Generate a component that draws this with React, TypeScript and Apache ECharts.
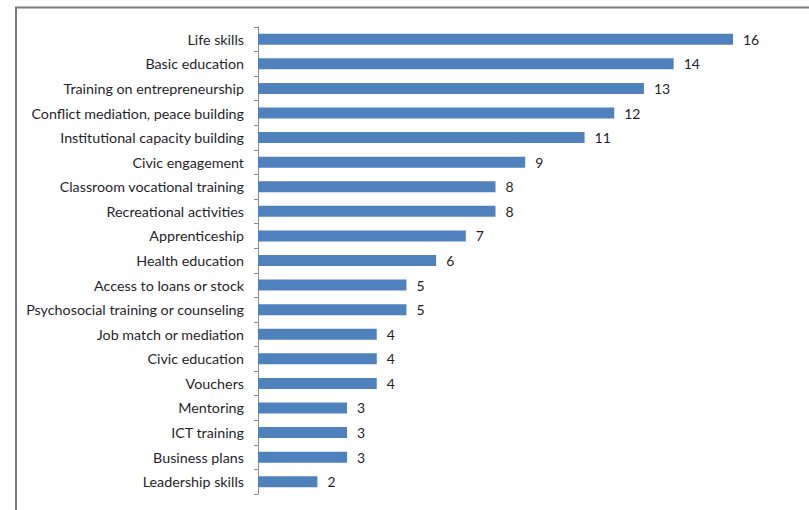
import React, { useEffect, useRef } from "react";
import * as echarts from "echarts";

const categories = [
  "Life skills",
  "Basic education",
  "Training on entrepreneurship",
  "Conflict mediation, peace building",
  "Institutional capacity building",
  "Civic engagement",
  "Classroom vocational training",
  "Recreational activities",
  "Apprenticeship",
  "Health education",
  "Access to loans or stock",
  "Psychosocial training or counseling",
  "Job match or mediation",
  "Civic education",
  "Vouchers",
  "Mentoring",
  "ICT training",
  "Business plans",
  "Leadership skills",
];

const values = [16, 14, 13, 12, 11, 9, 8, 8, 7, 6, 5, 5, 4, 4, 4, 3, 3, 3, 2];

const FONT = "Lato";

export default function App() {
  const ref = useRef<HTMLDivElement>(null);
  useEffect(() => {
    if (!ref.current) return;
    const chart = echarts.init(ref.current, undefined, { renderer: "svg" });
    chart.setOption({
      animation: false,
      backgroundColor: "#ffffff",
      graphic: [
        {
          type: "rect",
          shape: { x: 16, y: 7.5, width: 900, height: 600 },
          style: { fill: "none", stroke: "#7a7a7a", lineWidth: 2 },
          silent: true,
        },
      ],
      grid: { left: 258, top: 27, width: 475, height: 467, containLabel: false },
      xAxis: {
        type: "value",
        min: 0,
        max: 16,
        show: false,
      },
      yAxis: {
        type: "category",
        data: categories,
        inverse: true,
        axisLine: { show: true, lineStyle: { color: "#8c8c8c", width: 1 } },
        axisTick: { show: true, length: 4, lineStyle: { color: "#8c8c8c" } },
        axisLabel: {
          color: "#1f1f2a",
          fontFamily: FONT,
          fontSize: 14.3,
          margin: 14,
        },
        splitLine: { show: false },
      },
      series: [
        {
          type: "bar",
          data: values,
          barWidth: 11,
          itemStyle: { color: "#4f81bd" },
          label: {
            show: true,
            position: "right",
            distance: 10,
            color: "#1f1f2a",
            fontFamily: FONT,
            fontSize: 14,
          },
        },
      ],
    });
    return () => chart.dispose();
  }, []);
  return (
    <div
      ref={ref}
      style={{ position: "fixed", left: 0, top: 0, width: 809, height: 510 }}
    />
  );
}
